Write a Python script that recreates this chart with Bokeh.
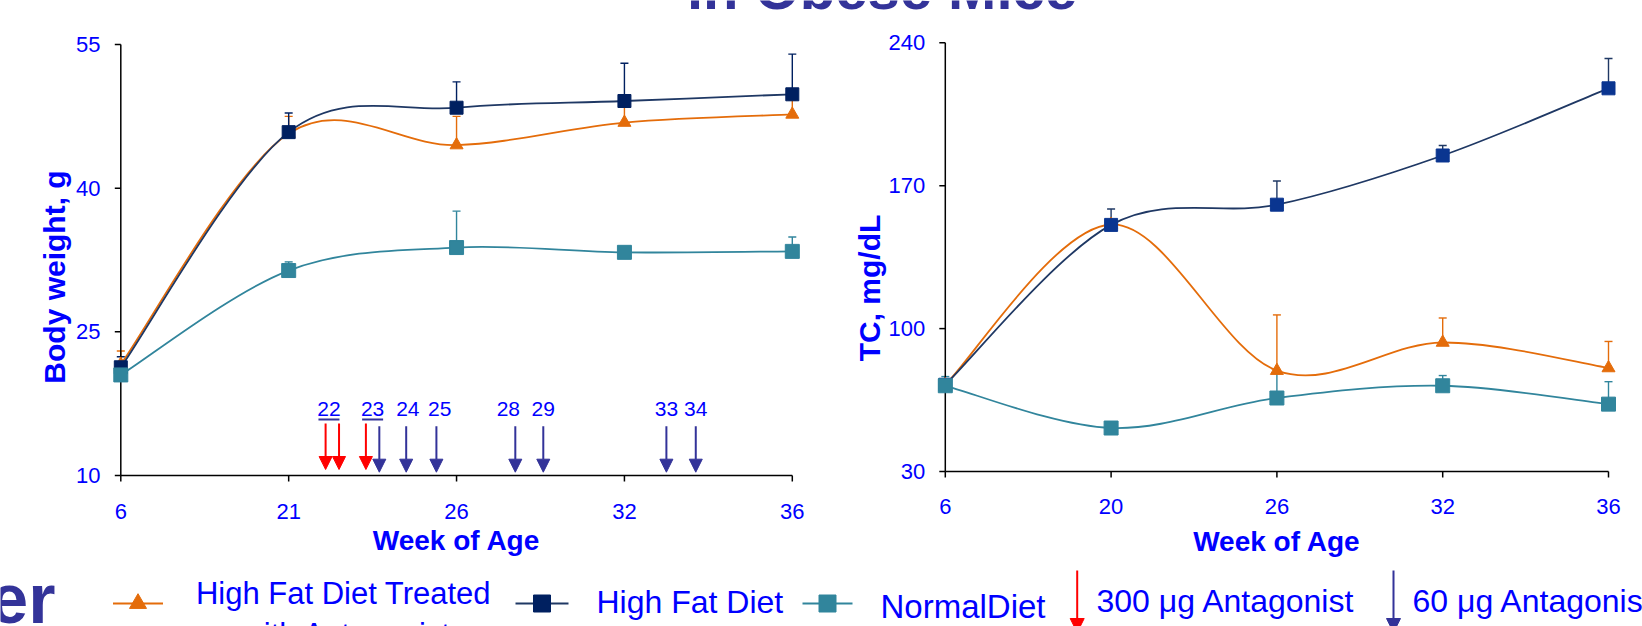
import numpy as np
from bokeh.plotting import figure
from bokeh.models import (Range1d, Arrow, NormalHead, ColumnDataSource, Whisker, TeeHead)
from bokeh.core.properties import value
from bokeh.embed import file_html
from bokeh.resources import INLINE

# ---------------- data ----------------
bw_weeks = ["6", "21", "26", "32", "36"]
bw_treated = [21.6, 45.7, 44.5, 46.85, 47.7]
bw_treated_err = [1.4, 1.8, 3.0, 1.6, 1.5]
bw_hfd = [21.3, 45.85, 48.4, 49.1, 49.8]
bw_hfd_err = [1.1, 2.0, 2.7, 3.95, 4.2]
bw_normal = [20.5, 31.4, 33.8, 33.3, 33.4]
bw_normal_err = [0.5, 0.9, 3.8, 0.3, 1.5]
bw_yticks = [10, 25, 40, 55]

tc_weeks = ["6", "20", "26", "32", "36"]
tc_treated = [72.5, 151.0, 79.4, 93.2, 80.7]
tc_treated_err = [1.0, 1.0, 27.3, 12.0, 13.0]
tc_hfd = [72.5, 150.8, 160.7, 184.8, 217.7]
tc_hfd_err = [1.5, 7.8, 11.6, 4.9, 14.6]
tc_normal = [72.0, 51.3, 66.0, 72.0, 63.0]
tc_normal_err = [4.5, 0.5, 12.0, 5.0, 11.0]
tc_yticks = [30, 100, 170, 240]

dose300_weeks = [22.1, 22.5, 23.3]
dose60_weeks = [23.7, 24.5, 25.4, 28.1, 29.1, 33.0, 33.7]
dose_labels = ["22", "23", "24", "25", "28", "29", "33", "34"]
dose_label_weeks = [22.2, 23.5, 24.55, 25.5, 27.85, 29.1, 33.0, 33.7]
dose_underlined = ["22", "23"]

series_names = ["High Fat Diet Treated", "with Antagonist", "High Fat Diet", "NormalDiet"]
dose_names = ["300 \u03bcg Antagonist", "60 \u03bcg Antagonist"]
bw_ylabel = "Body weight, g"
tc_ylabel = "TC, mg/dL"
xlabel = "Week of Age"
title_text = "in Obese Mice"
cut_text = "er"

# ---------------- styles ----------------
FONT = value("Liberation Sans")
BLUE = "#0000FF"
SLATE = "#333399"
ORANGE = "#E46C0A"
NAVY = "#002060"
NAVY_R = "#0A3590"
NAVY_LINE = "#1F3864"
TEAL = "#31859C"
RED = "#FF0000"
W, H = 1642, 626


def mapper(v1, p1, v2, p2):
    return lambda px: v1 + (px - p1) * (v2 - v1) / (p2 - p1)


# one canvas; default ranges are page pixels (y downwards)
p = figure(width=W, height=H, x_range=Range1d(0, W), y_range=Range1d(H, 0),
           x_axis_type=None, y_axis_type=None, min_border=0,
           output_backend="svg", toolbar_location=None)
p.outline_line_color = None
p.grid.visible = False
p.background_fill_color = "white"
p.border_fill_color = "white"


def smooth_line(xs, ys, color, width, rn):
    x = np.asarray(xs, float)
    y = np.asarray(ys, float)
    xp = np.r_[x[0], x, x[-1]]
    yp = np.r_[y[0], y, y[-1]]
    i = np.arange(len(x) - 1)
    p.bezier(x0=x[:-1], y0=y[:-1], x1=x[1:], y1=y[1:],
             cx0=xp[i + 1] + (xp[i + 2] - xp[i]) / 6,
             cy0=yp[i + 1] + (yp[i + 2] - yp[i]) / 6,
             cx1=xp[i + 2] - (xp[i + 3] - xp[i + 1]) / 6,
             cy1=yp[i + 2] - (yp[i + 3] - yp[i + 1]) / 6,
             line_color=color, line_width=width, x_range_name=rn, y_range_name=rn)


def add_series(rn, idx, vals, errs, color, marker, mcolor, size, lcolor=None):
    src = ColumnDataSource(dict(x=idx, y=vals, top=[a + b for a, b in zip(vals, errs)]))
    p.add_layout(Whisker(source=src, base="x", lower="y", upper="top",
                         dimension="height", line_color=color, line_width=1.4,
                         lower_head=None, x_range_name=rn, y_range_name=rn,
                         upper_head=TeeHead(size=8, line_color=color, line_width=1.4)))
    smooth_line(idx, vals, lcolor or color, 1.8, rn)
    p.scatter(idx, vals, marker=marker, size=size, fill_color=mcolor,
              line_color=mcolor, line_width=1, x_range_name=rn, y_range_name=rn)


def add_chart(rn, xpts, ypts, weeks, yticks, xlab_mid, ylab_right, ytitle, ytitle_pos,
              xtitle_mid):
    fx = mapper(*xpts)
    fy = mapper(*ypts)
    p.extra_x_ranges[rn] = Range1d(fx(0), fx(W))
    p.extra_y_ranges[rn] = Range1d(fy(H), fy(0))
    n = len(weeks)
    idx = list(range(n))
    x0px = xpts[1]
    y0px = ypts[1]
    kw = dict(x_range_name=rn, y_range_name=rn)
    # axis lines
    p.segment(x0=[0, 0], y0=[yticks[0], yticks[0]], x1=[n - 1, 0], y1=[yticks[0], yticks[-1]],
              line_color="black", line_width=1.5, **kw)
    # ticks (6 px outwards)
    p.segment(x0=idx, x1=idx, y0=[yticks[0]] * n, y1=[fy(y0px + 6)] * n,
              line_color="black", line_width=1.5, **kw)
    p.segment(x0=[0] * len(yticks), x1=[fx(x0px - 6)] * len(yticks), y0=yticks, y1=yticks,
              line_color="black", line_width=1.5, **kw)
    # tick labels
    p.text(x=idx, y=[fy(xlab_mid)] * n, text=weeks, text_font=FONT, text_font_size="22px",
           text_color=BLUE, text_align="center", text_baseline="middle", **kw)
    p.text(x=[fx(ylab_right)] * len(yticks), y=yticks, text=[str(t) for t in yticks],
           text_font=FONT, text_font_size="22px", text_color=BLUE, text_align="right",
           text_baseline="middle", **kw)
    # axis titles
    p.text(x=[ytitle_pos[0]], y=[ytitle_pos[1]], text=[ytitle], angle=np.pi / 2,
           text_font=FONT, text_font_style="bold", text_font_size="30px", text_color=BLUE,
           text_align="center", text_baseline="middle")
    p.text(x=[(n - 1) / 2], y=[fy(xtitle_mid)], text=[xlabel], text_font=FONT,
           text_font_style="bold", text_font_size="28px", text_color=BLUE,
           text_align="center", text_baseline="middle", **kw)
    return fx, fy, idx


# ---------------- left chart: body weight ----------------
lx, ly, bw_idx = add_chart("bw", (0, 120.3, 4, 791.8), (10, 475, 55, 44), bw_weeks, bw_yticks,
                           511, 100, bw_ylabel, (53.5, 276.5), 540)
add_series("bw", bw_idx, bw_treated, bw_treated_err, ORANGE, "triangle", ORANGE, 13)
add_series("bw", bw_idx, bw_hfd, bw_hfd_err, NAVY, "square", NAVY, 13, NAVY_LINE)
add_series("bw", bw_idx, bw_normal, bw_normal_err, TEAL, "square", TEAL, 14)

cat_weeks = [int(w) for w in bw_weeks]
wk = lambda w: float(np.interp(w, cat_weeks, bw_idx))
for w in dose300_weeks:
    p.add_layout(Arrow(x_start=wk(w), y_start=ly(423), x_end=wk(w), y_end=ly(469),
                       line_color=RED, line_width=2, x_range_name="bw", y_range_name="bw",
                       end=NormalHead(size=13, fill_color=RED, line_color=RED)))
for w in dose60_weeks:
    p.add_layout(Arrow(x_start=wk(w), y_start=ly(425.7), x_end=wk(w), y_end=ly(471.7),
                       line_color=SLATE, line_width=2, x_range_name="bw", y_range_name="bw",
                       end=NormalHead(size=13, fill_color=SLATE, line_color=SLATE)))
lab_x = [wk(w) for w in dose_label_weeks]
p.text(x=lab_x, y=[ly(408)] * len(lab_x), text=dose_labels,
       text_font=FONT, text_font_size="21px", text_color=BLUE,
       text_align="center", text_baseline="middle", x_range_name="bw", y_range_name="bw")
ul_x = [x for x, t in zip(lab_x, dose_labels) if t in dose_underlined]
half = 10.5 / 167.9
p.segment(x0=[x - half for x in ul_x], x1=[x + half for x in ul_x],
          y0=[ly(419)] * len(ul_x), y1=[ly(419)] * len(ul_x),
          line_color=SLATE, line_width=2, x_range_name="bw", y_range_name="bw")

# ---------------- right chart: total cholesterol ----------------
rx, ry, tc_idx = add_chart("tc", (0, 944.8, 4, 1608), (30, 471, 240, 42.3), tc_weeks, tc_yticks,
                           506, 924.8, tc_ylabel, (868.5, 287.5), 541)
add_series("tc", tc_idx, tc_treated, tc_treated_err, ORANGE, "triangle", ORANGE, 13)
add_series("tc", tc_idx, tc_hfd, tc_hfd_err, NAVY_LINE, "square", NAVY_R, 13)
add_series("tc", tc_idx, tc_normal, tc_normal_err, TEAL, "square", TEAL, 14)

# ---------------- title (cut at top edge) ----------------
p.text(x=[881.5], y=[-12.5], text=[title_text], text_font=FONT, text_font_style="bold",
       text_font_size="58px", text_color=SLATE, text_align="center",
       text_baseline="middle")

# ---------------- legend row ----------------
p.text(x=[55], y=[598.5], text=[cut_text], text_font=FONT, text_font_style="bold",
       text_font_size="70px", text_color=SLATE, text_align="right",
       text_baseline="middle")
leg_lines = [(112.5, 162.5, ORANGE), (515, 568, NAVY_LINE), (802, 852, TEAL)]
p.segment(x0=[a[0] for a in leg_lines], x1=[a[1] for a in leg_lines], y0=[603] * 3,
          y1=[603] * 3, line_color=[a[2] for a in leg_lines], line_width=2)
p.scatter(x=[137.5], y=[603], marker="triangle", size=17, fill_color=ORANGE, line_color=ORANGE)
p.scatter(x=[541.5, 827], y=[603, 603], marker="square", size=17,
          fill_color=[NAVY, TEAL], line_color=[NAVY, TEAL])
p.text(x=[343, 346], y=[592.5, 634], text=series_names[:2], text_font=FONT,
       text_font_size="31px", text_color=BLUE, text_align="center", text_baseline="middle")
p.text(x=[596, 880], y=[601.5, 606], text=series_names[2:], text_font=FONT,
       text_font_size=["32px", "33px"], text_color=BLUE, text_align="left",
       text_baseline="middle")
for xa, c in [(1076.7, RED), (1393, SLATE)]:
    p.add_layout(Arrow(x_start=xa, y_start=570, x_end=xa, y_end=632, line_color=c,
                       line_width=2, end=NormalHead(size=14, fill_color=c, line_color=c)))
p.text(x=[1096, 1412], y=[600.5, 600.5], text=dose_names, text_font=FONT,
       text_font_size="32px", text_color=BLUE, text_align="left", text_baseline="middle")

open("out.html", "w").write(file_html(p, INLINE))
